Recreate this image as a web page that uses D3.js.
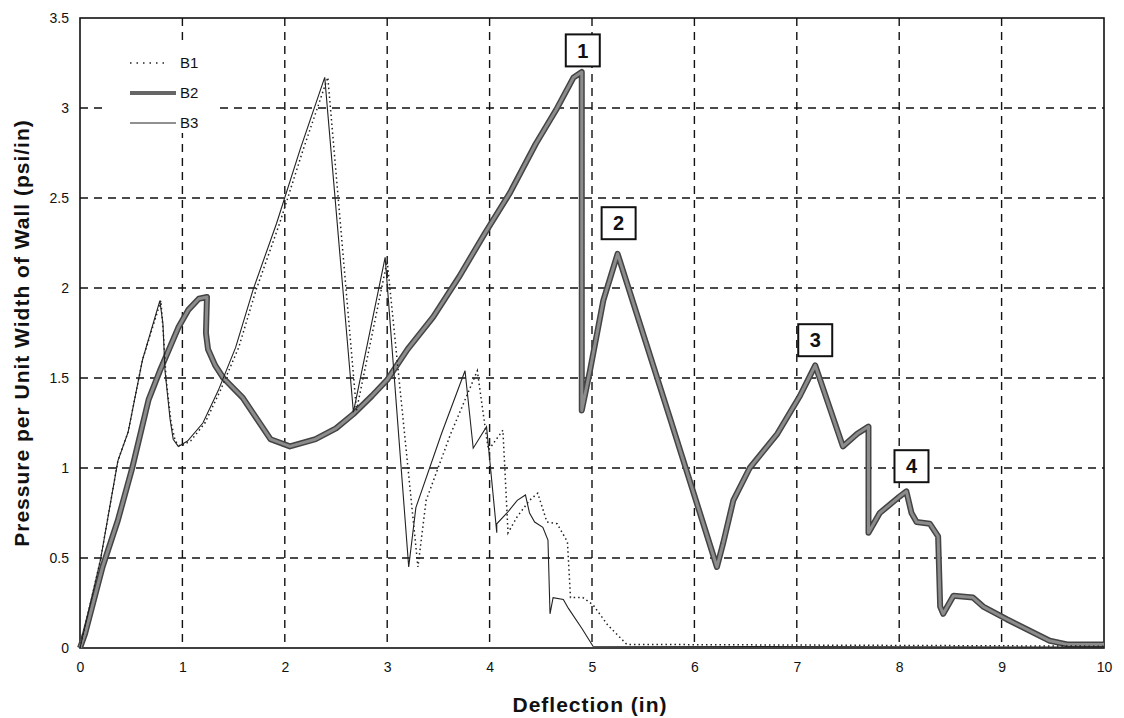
<!DOCTYPE html>
<html>
<head>
<meta charset="utf-8">
<script src="https://cdn.jsdelivr.net/npm/d3@7"></script>
<style>
  body { margin: 0; background: #fff; }
  svg { display: block; font-family: "Liberation Sans", Arial, sans-serif; }
</style>
</head>
<body>
<svg width="1124" height="718"></svg>
<script>
// ---- data (deflection in, pressure psi/in) ----
const xTicks = [0, 1, 2, 3, 4, 5, 6, 7, 8, 9, 10];
const yTicks = [0, 0.5, 1, 1.5, 2, 2.5, 3, 3.5];
const seriesNames = ["B1", "B2", "B3"];

const b1Points = [[0,0],[0.2,0.49],[0.37,1.04],[0.47,1.2],[0.61,1.6],[0.79,1.93],[0.82,1.7],[0.84,1.5],
  [0.89,1.25],[0.93,1.15],[0.98,1.12],[1.08,1.15],[1.22,1.25],[1.37,1.43],[1.55,1.67],[1.72,1.99],
  [1.95,2.36],[2.18,2.77],[2.42,3.17],[2.7,1.32],[3.0,2.15],[3.3,0.45],[3.38,0.82],[3.62,1.19],
  [3.88,1.54],[3.97,1.17],[3.99,1.1],[4.13,1.21],[4.18,0.64],[4.27,0.73],[4.39,0.82],[4.47,0.86],
  [4.56,0.7],[4.66,0.69],[4.76,0.59],[4.79,0.28],[4.91,0.28],[5.01,0.24],[5.15,0.13],[5.34,0.02],[10,0.01]];

const b2Points = [[0,0],[0.05,0.08],[0.22,0.45],[0.37,0.71],[0.51,1.0],[0.67,1.38],[0.78,1.54],[0.96,1.78],
  [1.06,1.88],[1.16,1.94],[1.24,1.95],[1.23,1.75],[1.25,1.66],[1.32,1.57],[1.4,1.5],[1.59,1.39],
  [1.86,1.16],[2.05,1.12],[2.3,1.16],[2.5,1.22],[2.67,1.3],[2.85,1.4],[3.0,1.49],[3.2,1.66],[3.45,1.84],
  [3.7,2.06],[3.95,2.3],[4.2,2.53],[4.45,2.8],[4.65,2.99],[4.82,3.17],[4.9,3.2],[4.9,1.32],[4.98,1.54],
  [5.11,1.93],[5.25,2.19],[5.76,1.28],[6.22,0.45],[6.28,0.58],[6.38,0.82],[6.54,1.0],[6.81,1.19],
  [7.03,1.4],[7.18,1.57],[7.45,1.12],[7.59,1.19],[7.7,1.23],[7.7,0.64],[7.81,0.75],[8.0,0.84],
  [8.07,0.87],[8.12,0.75],[8.17,0.7],[8.3,0.69],[8.38,0.62],[8.4,0.23],[8.43,0.19],[8.53,0.29],
  [8.72,0.28],[8.82,0.23],[9.05,0.16],[9.47,0.04],[9.64,0.02],[10,0.02]];

const b3Points = [[0,0],[0.2,0.49],[0.37,1.04],[0.47,1.2],[0.61,1.6],[0.78,1.93],[0.81,1.8],[0.83,1.54],
  [0.88,1.27],[0.91,1.16],[0.96,1.12],[1.05,1.15],[1.2,1.25],[1.35,1.43],[1.52,1.67],[1.69,1.99],
  [1.92,2.36],[2.15,2.77],[2.39,3.17],[2.67,1.31],[2.98,2.17],[3.21,0.45],[3.28,0.78],[3.53,1.19],
  [3.76,1.54],[3.84,1.11],[3.97,1.23],[4.07,0.64],[4.07,0.69],[4.17,0.75],[4.27,0.82],[4.35,0.85],
  [4.39,0.75],[4.44,0.7],[4.52,0.67],[4.57,0.6],[4.59,0.19],[4.62,0.28],[4.72,0.27],[4.77,0.22],
  [4.9,0.11],[5.01,0.01],[10,0.005]];

// peak call-outs on B2 (box centre in data units)
const peakLabels = ["1", "2", "3", "4"];
const peakBoxX = [4.91, 5.26, 7.18, 8.12];
const peakBoxY = [3.32, 2.36, 1.71, 1.01];

// ---- layout ----
const svg = d3.select("svg");
const plotL = 80, plotR = 1104, plotT = 18, plotB = 648;

const x = d3.scaleLinear().domain([0, 10]).range([plotL, plotR]);
const y = d3.scaleLinear().domain([0, 3.5]).range([plotB, plotT]);

// grid
svg.append("g").selectAll("line")
  .data(xTicks.slice(1, -1))
  .enter().append("line")
  .attr("x1", d => x(d)).attr("x2", d => x(d))
  .attr("y1", plotT).attr("y2", plotB)
  .attr("stroke", "#111").attr("stroke-width", 1.4)
  .attr("stroke-dasharray", "8,6");

svg.append("g").selectAll("line")
  .data(yTicks.slice(1, -1))
  .enter().append("line")
  .attr("x1", plotL).attr("x2", plotR)
  .attr("y1", d => y(d)).attr("y2", d => y(d))
  .attr("stroke", "#111").attr("stroke-width", 1.4)
  .attr("stroke-dasharray", "8,6");

// frame
svg.append("rect")
  .attr("x", plotL).attr("y", plotT)
  .attr("width", plotR - plotL).attr("height", plotB - plotT)
  .attr("fill", "none").attr("stroke", "#111").attr("stroke-width", 1.6);

// axes (labels only, frame draws the lines)
const xAxis = svg.append("g")
  .attr("transform", `translate(0,${plotB})`)
  .call(d3.axisBottom(x).tickValues(xTicks).tickSize(0).tickPadding(14).tickFormat(d3.format("d")));
xAxis.select(".domain").remove();
xAxis.selectAll("text").attr("font-size", 14).attr("fill", "#111")
  .attr("font-family", "'Liberation Sans', Arial, sans-serif");

const yAxis = svg.append("g")
  .attr("transform", `translate(${plotL},0)`)
  .call(d3.axisLeft(y).tickValues(yTicks).tickSize(0).tickPadding(11).tickFormat(d => String(d)));
yAxis.select(".domain").remove();
yAxis.selectAll("text").attr("font-size", 14).attr("fill", "#111")
  .attr("font-family", "'Liberation Sans', Arial, sans-serif");

// legend background (white, no border) hides the grid behind it
svg.append("rect")
  .attr("x", 108).attr("y", 45).attr("width", 110).attr("height", 88)
  .attr("fill", "#fff");

// curves
const line = d3.line().x(d => x(d[0])).y(d => y(d[1]));

// B2: thick gray with a darker rim
svg.append("path").datum(b2Points).attr("d", line)
  .attr("fill", "none").attr("stroke", "#444").attr("stroke-width", 6)
  .attr("stroke-linejoin", "round");
svg.append("path").datum(b2Points).attr("d", line)
  .attr("fill", "none").attr("stroke", "#8c8c8c").attr("stroke-width", 3)
  .attr("stroke-linejoin", "round");

svg.append("path").datum(b1Points).attr("d", line)
  .attr("fill", "none").attr("stroke", "#222").attr("stroke-width", 1.5)
  .attr("stroke-dasharray", "1.5,3");

svg.append("path").datum(b3Points).attr("d", line)
  .attr("fill", "none").attr("stroke", "#222").attr("stroke-width", 1.1);

// peak boxes
const boxes = svg.append("g").selectAll("g")
  .data(peakLabels)
  .enter().append("g")
  .attr("transform", (d, i) => `translate(${x(peakBoxX[i])},${y(peakBoxY[i])})`);
boxes.append("rect")
  .attr("x", -17).attr("y", -16).attr("width", 34).attr("height", 32)
  .attr("fill", "#fff").attr("stroke", "#111").attr("stroke-width", 2);
boxes.append("text")
  .attr("text-anchor", "middle").attr("dy", "0.36em")
  .attr("font-size", 20).attr("font-weight", "bold").attr("fill", "#111")
  .text(d => d);

// legend
const legend = svg.append("g").selectAll("g")
  .data(seriesNames)
  .enter().append("g")
  .attr("transform", (d, i) => `translate(130,${63 + 30 * i})`);
legend.append("line")
  .attr("x1", 0).attr("x2", (d, i) => i === 0 ? 38 : 46).attr("y1", 0).attr("y2", 0)
  .attr("stroke", (d, i) => i === 1 ? "#666" : "#222")
  .attr("stroke-width", (d, i) => i === 1 ? 4 : (i === 0 ? 1.5 : 1))
  .attr("stroke-dasharray", (d, i) => i === 0 ? "1.5,5" : null);
legend.append("text")
  .attr("x", 50).attr("dy", "0.36em")
  .attr("font-size", 15).attr("fill", "#111")
  .text(d => d);

// axis titles
svg.append("text")
  .attr("x", 590).attr("y", 712)
  .attr("text-anchor", "middle")
  .attr("font-size", 21).attr("font-weight", "bold").attr("letter-spacing", 1)
  .attr("fill", "#111")
  .text("Deflection (in)");

svg.append("text")
  .attr("transform", `translate(29,${(plotT + plotB) / 2}) rotate(-90)`)
  .attr("text-anchor", "middle")
  .attr("font-size", 21).attr("font-weight", "bold").attr("letter-spacing", 1)
  .attr("fill", "#111")
  .text("Pressure per Unit Width of Wall (psi/in)");
</script>
</body>
</html>
